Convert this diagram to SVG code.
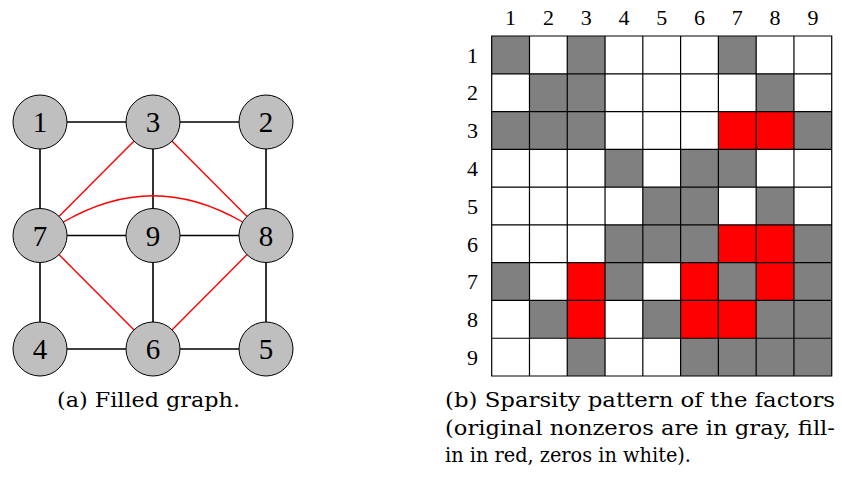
<svg xmlns="http://www.w3.org/2000/svg" width="842" height="481" viewBox="0 0 842 481">
<style>
.e{stroke:#000;stroke-width:1.6;fill:none}
.r{stroke:#f00;stroke-width:1.4;fill:none}
.n circle{fill:#bfbfbf;stroke:#000;stroke-width:1}
.n text{font-family:"Liberation Serif","Times New Roman",serif;font-size:29px;text-anchor:middle;fill:#000}
.lab{font-family:"Liberation Serif","Times New Roman",serif;font-size:22px;text-anchor:middle;fill:#000}
.cap{font-family:"DejaVu Serif","Liberation Serif",serif;font-size:20px;fill:#000}
.g{fill:#808080}
.d{fill:#f00}
.grid{stroke:#000;fill:none}
</style>
<rect width="842" height="481" fill="#fff"/>
<g id="connectors">
<line class="e" x1="40" y1="122" x2="153" y2="122"/>
<line class="e" x1="153" y1="122" x2="266" y2="122"/>
<line class="e" x1="40" y1="122" x2="40" y2="235.5"/>
<line class="e" x1="266" y1="122" x2="266" y2="235.5"/>
<line class="e" x1="153" y1="122" x2="153" y2="235.5"/>
<line class="e" x1="40" y1="235.5" x2="153" y2="235.5"/>
<line class="e" x1="153" y1="235.5" x2="266" y2="235.5"/>
<line class="e" x1="153" y1="235.5" x2="153" y2="349"/>
<line class="e" x1="40" y1="235.5" x2="40" y2="349"/>
<line class="e" x1="266" y1="235.5" x2="266" y2="349"/>
<line class="e" x1="40" y1="349" x2="153" y2="349"/>
<line class="e" x1="153" y1="349" x2="266" y2="349"/>
<line class="r" x1="40" y1="235.5" x2="153" y2="122"/>
<line class="r" x1="153" y1="122" x2="266" y2="235.5"/>
<line class="r" x1="40" y1="235.5" x2="153" y2="349"/>
<line class="r" x1="153" y1="349" x2="266" y2="235.5"/>
<path class="r" d="M63.4,222 C124.2,187 181.8,187 242.6,222"/>
</g>
<g id="node1" class="n"><circle cx="40" cy="122" r="27"/><text x="40" y="132">1</text></g>
<g id="node3" class="n"><circle cx="153" cy="122" r="27"/><text x="153" y="132">3</text></g>
<g id="node2" class="n"><circle cx="266" cy="122" r="27"/><text x="266" y="132">2</text></g>
<g id="node7" class="n"><circle cx="40" cy="235.5" r="27"/><text x="40" y="245.5">7</text></g>
<g id="node9" class="n"><circle cx="153" cy="235.5" r="27"/><text x="153" y="245.5">9</text></g>
<g id="node8" class="n"><circle cx="266" cy="235.5" r="27"/><text x="266" y="245.5">8</text></g>
<g id="node4" class="n"><circle cx="40" cy="349" r="27"/><text x="40" y="359">4</text></g>
<g id="node6" class="n"><circle cx="153" cy="349" r="27"/><text x="153" y="359">6</text></g>
<g id="node5" class="n"><circle cx="266" cy="349" r="27"/><text x="266" y="359">5</text></g>
<text class="cap" x="57" y="407" textLength="183" lengthAdjust="spacingAndGlyphs">(a) Filled graph.</text>
<g id="matrix" transform="translate(491.7,36) scale(37.78)">
<g class="g">
<rect x="0" y="0" width="1" height="1"/><rect x="2" y="0" width="1" height="1"/><rect x="6" y="0" width="1" height="1"/>
<rect x="1" y="1" width="1" height="1"/><rect x="2" y="1" width="1" height="1"/><rect x="7" y="1" width="1" height="1"/>
<rect x="0" y="2" width="1" height="1"/><rect x="1" y="2" width="1" height="1"/><rect x="2" y="2" width="1" height="1"/><rect x="8" y="2" width="1" height="1"/>
<rect x="3" y="3" width="1" height="1"/><rect x="5" y="3" width="1" height="1"/><rect x="6" y="3" width="1" height="1"/>
<rect x="4" y="4" width="1" height="1"/><rect x="5" y="4" width="1" height="1"/><rect x="7" y="4" width="1" height="1"/>
<rect x="3" y="5" width="1" height="1"/><rect x="4" y="5" width="1" height="1"/><rect x="5" y="5" width="1" height="1"/><rect x="8" y="5" width="1" height="1"/>
<rect x="0" y="6" width="1" height="1"/><rect x="3" y="6" width="1" height="1"/><rect x="6" y="6" width="1" height="1"/><rect x="8" y="6" width="1" height="1"/>
<rect x="1" y="7" width="1" height="1"/><rect x="4" y="7" width="1" height="1"/><rect x="7" y="7" width="1" height="1"/><rect x="8" y="7" width="1" height="1"/>
<rect x="2" y="8" width="1" height="1"/><rect x="5" y="8" width="1" height="1"/><rect x="6" y="8" width="1" height="1"/><rect x="7" y="8" width="1" height="1"/><rect x="8" y="8" width="1" height="1"/>
</g>
<g class="d">
<rect x="6" y="2" width="1" height="1"/><rect x="7" y="2" width="1" height="1"/>
<rect x="6" y="5" width="1" height="1"/><rect x="7" y="5" width="1" height="1"/>
<rect x="2" y="6" width="1" height="1"/><rect x="5" y="6" width="1" height="1"/><rect x="7" y="6" width="1" height="1"/>
<rect x="2" y="7" width="1" height="1"/><rect x="5" y="7" width="1" height="1"/><rect x="6" y="7" width="1" height="1"/>
</g>
<path class="grid" style="stroke-width:0.032" d="M0,0H9V9H0Z M1,0V9 M2,0V9 M3,0V9 M4,0V9 M5,0V9 M6,0V9 M7,0V9 M8,0V9 M0,1H9 M0,2H9 M0,3H9 M0,4H9 M0,5H9 M0,6H9 M0,7H9 M0,8H9"/>
</g>
<g id="col-labels" class="lab">
<text x="510.6" y="25">1</text><text x="548.4" y="25">2</text><text x="586.2" y="25">3</text><text x="624" y="25">4</text><text x="661.7" y="25">5</text><text x="699.5" y="25">6</text><text x="737.3" y="25">7</text><text x="775.1" y="25">8</text><text x="812.9" y="25">9</text>
</g>
<g id="row-labels" class="lab">
<text x="472.5" y="62.5">1</text><text x="472.5" y="100.3">2</text><text x="472.5" y="138.1">3</text><text x="472.5" y="175.9">4</text><text x="472.5" y="213.7">5</text><text x="472.5" y="251.5">6</text><text x="472.5" y="289.3">7</text><text x="472.5" y="327">8</text><text x="472.5" y="364.8">9</text>
</g>
<text class="cap" x="445" y="407" textLength="390" lengthAdjust="spacingAndGlyphs">(b) Sparsity pattern of the factors</text>
<text class="cap" x="445" y="434.5" textLength="390" lengthAdjust="spacingAndGlyphs">(original nonzeros are in gray, fill-</text>
<text class="cap" x="445" y="462" textLength="246" lengthAdjust="spacingAndGlyphs">in in red, zeros in white).</text>
</svg>
